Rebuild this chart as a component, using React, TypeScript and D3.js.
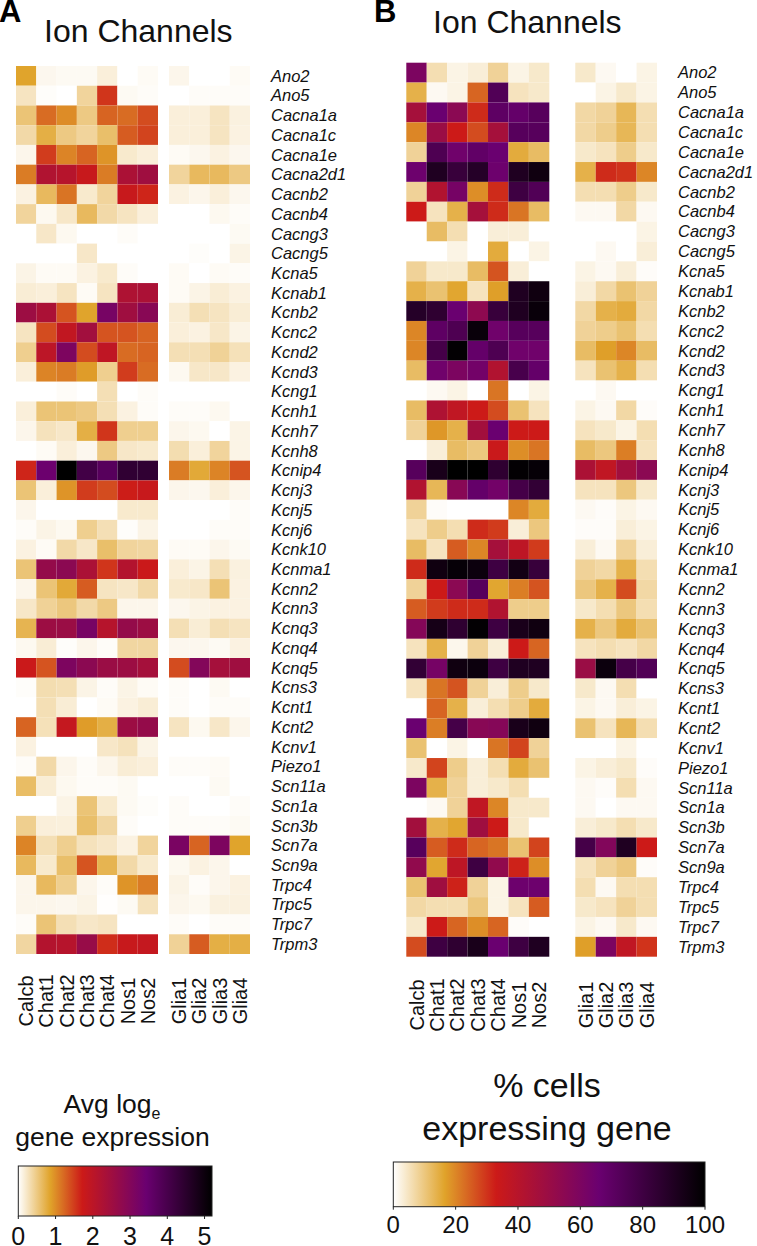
import React from "react";
import * as d3 from "d3";

const genes = ["Ano2","Ano5","Cacna1a","Cacna1c","Cacna1e","Cacna2d1","Cacnb2","Cacnb4","Cacng3","Cacng5","Kcna5","Kcnab1","Kcnb2","Kcnc2","Kcnd2","Kcnd3","Kcng1","Kcnh1","Kcnh7","Kcnh8","Kcnip4","Kcnj3","Kcnj5","Kcnj6","Kcnk10","Kcnma1","Kcnn2","Kcnn3","Kcnq3","Kcnq4","Kcnq5","Kcns3","Kcnt1","Kcnt2","Kcnv1","Piezo1","Scn11a","Scn1a","Scn3b","Scn7a","Scn9a","Trpc4","Trpc5","Trpc7","Trpm3"];
const neurons = ["Calcb","Chat1","Chat2","Chat3","Chat4","Nos1","Nos2"];
const glia = ["Glia1","Glia2","Glia3","Glia4"];
const exprTicks = [0,1,2,3,4,5];
const pctTicks = [0,20,40,60,80,100];

// Avg log_e expression, one row per gene: neurons then glia
const exprValues: number[][] = [
[.85,.07,.05,.05,.15,0,.04,.08,0,0,.04],
[.25,.02,0,.4,1.55,.05,.03,0,.03,.03,.03],
[.55,1.2,1.0,.5,1.25,1.2,1.4,.15,.15,.25,.13],
[.35,.75,.5,.4,.6,1.3,1.45,.15,.15,.25,.12],
[.08,1.5,1.05,1.25,.95,.2,.15,.04,.07,.12,.07],
[1.1,2.2,2.1,1.8,1.1,2.3,2.5,.4,.65,.65,.5],
[.12,.65,1.15,.2,.4,1.8,1.65,.12,.08,.15,.07],
[.4,.06,.22,.65,.35,.25,.15,0,0,.06,.03],
[0,.22,.06,0,0,.03,0,0,0,0,.05],
[0,0,0,.22,0,0,0,0,.02,0,.1],
[.1,.04,.04,.12,.2,.03,0,.04,0,.04,.03],
[.17,.15,.25,.04,.25,2.25,2.3,.04,.1,.17,.12],
[2.55,2.3,1.35,.85,3.2,2.5,2.9,.17,.3,.25,.17],
[.25,1.4,1.9,2.45,1.35,1.35,1.25,.15,.12,.22,.1],
[.45,2.0,3.1,1.4,1.95,1.2,1.25,.3,.3,.42,.28],
[.15,1.05,1.1,.9,.45,1.5,1.2,.06,.22,.22,.12],
[0,0,.03,0,.3,0,.03,0,0,0,0],
[.15,.55,.55,.5,.3,.12,.03,.03,.03,.06,0],
[.08,.27,.22,.75,1.55,.45,.45,.08,.06,0,.1],
[0,.04,.15,.07,.5,.22,.2,.32,.15,.4,.1],
[1.65,3.4,5.2,4.1,3.75,4.4,4.4,1.1,.8,1.05,1.35],
[.55,.15,.95,1.5,1.4,1.7,1.8,.08,.07,.15,.08],
[.08,0,0,0,0,.2,.2,0,0,0,.03],
[.03,.1,.06,.45,.3,.02,.1,0,0,.03,.03],
[.12,.04,.35,.22,.6,.4,.38,.04,.04,.08,.05],
[.55,2.7,2.85,2.3,1.55,2.15,1.75,.15,.1,.3,.13],
[.08,.55,.8,1.3,.25,.22,.35,.2,.22,.55,.12],
[.22,.42,.52,.35,.5,.08,.08,.07,.1,.12,.12],
[.7,2.55,2.6,3.2,2.1,2.7,2.55,.3,.17,.3,.25],
[.06,.17,.02,.08,.03,.38,.38,.07,.07,.05,.12],
[1.75,1.35,3.1,2.85,2.6,2.55,2.4,1.4,3.0,2.4,2.5],
[.02,.32,.3,.1,.03,.1,.04,.03,0,.05,0],
[0,.3,.17,0,.04,.12,.17,.03,0,.03,.03],
[1.25,.28,1.85,.9,.75,2.55,2.7,.25,.06,.22,.08],
[.12,0,0,0,.22,.27,.1,0,0,0,0],
[.03,.35,.08,.03,.08,.17,.15,.03,.03,.04,0],
[.62,.17,.06,.03,.03,.05,0,0,0,.05,0],
[0,0,.1,.55,.2,.05,.02,.03,0,0,.03],
[.45,.15,.14,.6,.38,.03,0,.03,.03,.03,.05],
[1.05,.3,.45,.27,.22,.12,.4,3.15,1.25,3.1,.85],
[.65,.2,.6,1.35,.7,.35,.2,.06,.12,.08,0],
[.08,.65,.45,.08,.03,.95,1.1,.1,.03,.08,.12],
[.08,.08,.07,.1,.01,.05,.27,.08,.06,.13,.13],
[.03,.55,.3,.22,.25,0,0,.03,0,.03,.03],
[.38,2.15,2.1,2.65,1.6,1.8,1.85,.42,1.3,.75,.75],
];

// % cells expressing gene, same layout
const pctValues: number[][] = [
[60,6,2,3,8,2,4,4,1,0,2],
[14,1,2,24,74,5,4,0,2,4,2],
[46,66,55,31,70,68,72,7,8,13,6],
[20,50,33,27,46,72,72,7,9,13,6],
[8,75,64,69,66,15,12,4,5,9,4],
[65,90,82,88,65,90,95,14,31,30,20],
[8,42,62,19,31,80,74,6,6,9,4],
[33,5,14,46,31,22,12,1,1,7,1],
[0,12,6,0,3,3,0,0,0,0,2],
[0,0,2,0,15,0,2,0,1,0,3],
[8,4,4,12,26,3,0,2,1,3,.5],
[14,11,16,5,17,90,95,3,7,11,8],
[88,85,66,54,82,90,97,7,14,15,7],
[20,70,75,97,64,72,72,8,9,11,6],
[20,78,99,68,75,64,64,12,17,20,12],
[12,64,60,63,42,77,68,5,11,14,6],
[0,1,2,0,22,0,2,0,1,0,0],
[12,43,37,33,27,11,5,2,1,7,.5],
[8,18,14,47,66,33,33,5,4,2,6],
[0,3,12,10,34,19,22,12,10,21,5],
[72,92,100,100,85,99,98,44,37,47,55],
[42,13,56,68,63,78,84,5,5,10,4],
[8,.5,0,0,0,20,15,1,.5,2,1],
[5,9,6,31,29,3,10,.5,.5,3,2],
[12,5,25,20,46,38,29,3,1,8,3],
[31,95,98,96,80,94,82,8,7,14,6],
[8,33,55,72,16,21,26,10,14,27,7],
[25,29,31,31,42,9,9,4,6,10,6],
[57,93,85,99,80,92,95,14,10,15,11],
[5,14,1.5,8,3,33,24,5,6,5,7],
[84,62,95,96,80,90,90,50,96,78,74],
[5,22,26,8,3,9,4,4,1,6,0],
[0,24,14,3,6,9,15,2,1,3,2],
[66,21,78,56,57,92,95,11,5,13,6],
[11,0,2,0,22,28,8,0,0,2,0],
[4,28,9,3,6,15,11,2,3,4,.5],
[60,14,8,3,4,6,0,1,.5,6,1],
[0,1,8,37,20,4,4,1,0,1,1],
[47,14,16,48,33,4,0,3,4,6,4],
[72,25,31,24,22,11,28,78,58,90,33],
[53,16,38,80,53,32,19,5,8,10,.5],
[11,48,32,8,2,65,65,6,1,6,6],
[7,6,6,10,2,5,25,4,5,8,6],
[4,33,24,19,24,.5,0,2,1,4,1],
[27,80,85,92,66,80,90,17,60,37,30],
];

const stopPos = [0, 0.165, 0.33, 0.66, 1];
const stopColors = ["#ffffff", "#e0a32a", "#cc1a18", "#6a0070", "#000000"];
const makeColor = (max: number) =>
  d3.scaleLinear<string>().domain(stopPos.map((p) => p * max)).range(stopColors).interpolate(d3.interpolateRgb).clamp(true);

const FONT = "'Liberation Sans', Arial, sans-serif";

type PanelProps = {
  values: number[][]; max: number;
  nx: [number, number]; gx: [number, number]; y: [number, number];
  labelX: number; colY: number; colFont: number;
};

function Panel({ values, max, nx, gx, y, labelX, colY, colFont }: PanelProps) {
  const color = makeColor(max);
  const xN = d3.scaleBand().domain(neurons).range(nx);
  const xG = d3.scaleBand().domain(glia).range(gx);
  const yS = d3.scaleBand().domain(genes).range(y);
  return (
    <g>
      {genes.map((g, r) => (
        <g key={g}>
          {neurons.map((c, i) => (
            <rect key={c} x={xN(c)} y={yS(g)} width={xN.bandwidth()} height={yS.bandwidth()} fill={color(values[r][i])} />
          ))}
          {glia.map((c, i) => (
            <rect key={c} x={xG(c)} y={yS(g)} width={xG.bandwidth()} height={yS.bandwidth()} fill={color(values[r][i + neurons.length])} />
          ))}
          <text x={labelX} y={yS(g)! + yS.bandwidth() / 2} dy="0.35em" fontSize={16.5} fontStyle="italic" fill="#111">{g}</text>
        </g>
      ))}
      {[...neurons.map((c) => [c, xN(c)! + xN.bandwidth() / 2] as const), ...glia.map((c) => [c, xG(c)! + xG.bandwidth() / 2] as const)].map(([c, px]) => (
        <text key={c} transform={`translate(${px},${colY}) rotate(-90)`} textAnchor="middle" dy="0.35em" fontSize={colFont} fill="#111">{c}</text>
      ))}
    </g>
  );
}

function ColorBar({ id, max, ticks, x0, x1, y0, y1, fontSize, labelY }: { id: string; max: number; ticks: number[]; x0: number; x1: number; y0: number; y1: number; fontSize: number; labelY: number }) {
  const sx = d3.scaleLinear().domain([0, max]).range([x0, x1]);
  return (
    <g>
      <defs>
        <linearGradient id={id}>
          {stopPos.map((p, i) => <stop key={p} offset={p} stopColor={stopColors[i]} />)}
        </linearGradient>
      </defs>
      <rect x={x0} y={y0} width={x1 - x0} height={y1 - y0} fill={`url(#${id})`} stroke="#222" strokeWidth={1} />
      {ticks.map((t) => (
        <g key={t}>
          <line x1={sx(t)} x2={sx(t)} y1={y1} y2={y1 + 3} stroke="#222" strokeWidth={1} />
          <text x={sx(t)} y={labelY} textAnchor="middle" fontSize={fontSize} fill="#111">{t}</text>
        </g>
      ))}
    </g>
  );
}

export default function App() {
  return (
    <svg width={757} height={1246} viewBox="0 0 757 1246" fontFamily={FONT} style={{ position: "absolute", left: 0, top: 0, background: "#fff" }}>
      <text x={-1} y={22} fontSize={31} fontWeight="bold" fill="#000">A</text>
      <text x={374} y={22} fontSize={31} fontWeight="bold" fill="#000">B</text>
      <text x={44} y={42} fontSize={32} fill="#111">Ion Channels</text>
      <text x={433} y={33} fontSize={32} fill="#111">Ion Channels</text>

      <Panel values={exprValues} max={5.2} nx={[16, 158]} gx={[169, 250]} y={[66, 954]} labelX={271} colY={1001} colFont={20} />
      <Panel values={pctValues} max={100} nx={[406.3, 549.3]} gx={[575.3, 657]} y={[62.7, 956.7]} labelX={678} colY={1005} colFont={20} />

      <text x={112} y={1113} textAnchor="middle" fontSize={26.5} fill="#111">Avg log<tspan dy={6} fontSize={16}>e</tspan></text>
      <text x={112.5} y={1146} textAnchor="middle" fontSize={26.5} fill="#111">gene expression</text>
      <ColorBar id="cbA" max={5.2} ticks={exprTicks} x0={18.3} x1={212} y0={1166} y1={1216} fontSize={25} labelY={1245} />

      <text x={547} y={1097} textAnchor="middle" fontSize={34} fill="#111">% cells</text>
      <text x={547} y={1140} textAnchor="middle" fontSize={34} fill="#111">expressing gene</text>
      <ColorBar id="cbB" max={100} ticks={pctTicks} x0={393.3} x1={705} y0={1162} y1={1206.7} fontSize={24} labelY={1233} />
    </svg>
  );
}
